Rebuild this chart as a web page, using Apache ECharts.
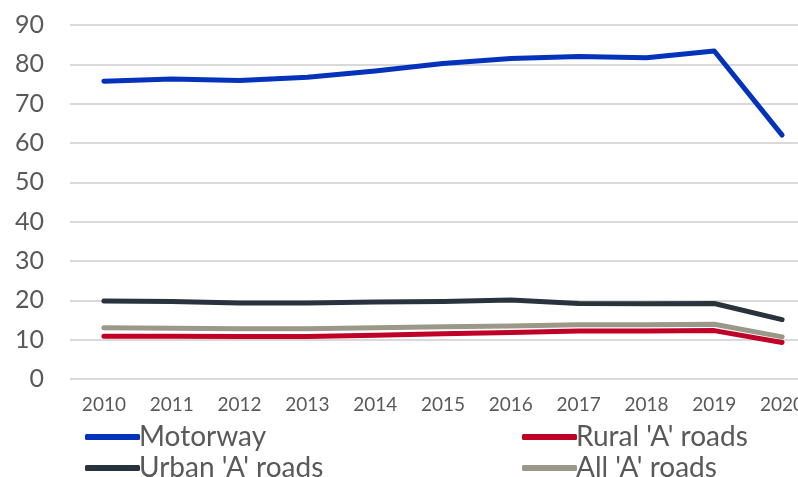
<!DOCTYPE html>
<html>
<head>
<meta charset="utf-8">
<script src="https://cdn.jsdelivr.net/npm/echarts@6/dist/echarts.min.js"></script>
<style>
  html, body { margin: 0; padding: 0; background: #fff; }
  #chart { width: 798px; height: 477px; }
</style>
</head>
<body>
<div id="chart"></div>
<script>
  // years on the x axis
  const years = ['2010', '2011', '2012', '2013', '2014', '2015', '2016', '2017', '2018', '2019', '2020']
  // series values
  const motorway = [75.7, 76.3, 75.9, 76.7, 78.3, 80.2, 81.5, 82.0, 81.7, 83.4, 62.0]
  const urbanA = [19.8, 19.7, 19.3, 19.3, 19.6, 19.7, 20.1, 19.2, 19.1, 19.2, 15.1]
  const ruralA = [10.9, 10.9, 10.8, 10.8, 11.1, 11.5, 11.8, 12.2, 12.2, 12.3, 9.3]
  const allA = [13.0, 12.9, 12.8, 12.8, 13.0, 13.3, 13.5, 13.8, 13.8, 13.9, 10.7]

  const font = 'Lato, "DejaVu Sans", sans-serif'
  const chart = echarts.init(document.getElementById('chart'))

  const mkLine = (name, data, color) => ({
    name: name,
    type: 'line',
    data: data,
    symbol: 'none',
    smooth: false,
    lineStyle: { width: 5, color: color, cap: 'round', join: 'round' },
    itemStyle: { color: color }
  })

  // one legend per item so the 2x2 layout is fixed
  const mkLegend = (name, left, top) => ({
    left: left,
    top: top,
    data: [name],
    itemWidth: 55,
    itemHeight: 6,
    icon: 'roundRect',
    textStyle: { fontFamily: font, fontSize: 28, color: '#595959', padding: [0, 0, 0, -6] }
  })

  chart.setOption({
    animation: false,
    legend: [
      mkLegend('Motorway', 80, 418),
      mkLegend("Urban 'A' roads", 80, 449),
      mkLegend("Rural 'A' roads", 517, 418),
      mkLegend("All 'A' roads", 517, 449)
    ],
    // plot runs past the right edge, like the cropped original
    grid: { left: 70, top: 25, width: 746, height: 354, outerBoundsMode: 'none' },
    xAxis: {
      type: 'category',
      data: years,
      boundaryGap: true,
      axisLine: { show: false },
      axisTick: { show: false },
      axisLabel: { fontFamily: font, fontSize: 19, color: '#595959', margin: 16, interval: 0, hideOverlap: false }
    },
    yAxis: {
      type: 'value',
      min: 0,
      max: 90,
      interval: 10,
      axisLine: { show: false },
      axisTick: { show: false },
      axisLabel: { fontFamily: font, fontSize: 25, color: '#595959', margin: 26 },
      splitLine: { lineStyle: { color: '#d9d9d9', width: 2 } }
    },
    series: [
      mkLine('Motorway', motorway, '#0433bb'),
      mkLine("Rural 'A' roads", ruralA, '#c00027'),
      mkLine("Urban 'A' roads", urbanA, '#29333d'),
      mkLine("All 'A' roads", allA, '#9b988a')
    ]
  })
</script>
</body>
</html>
